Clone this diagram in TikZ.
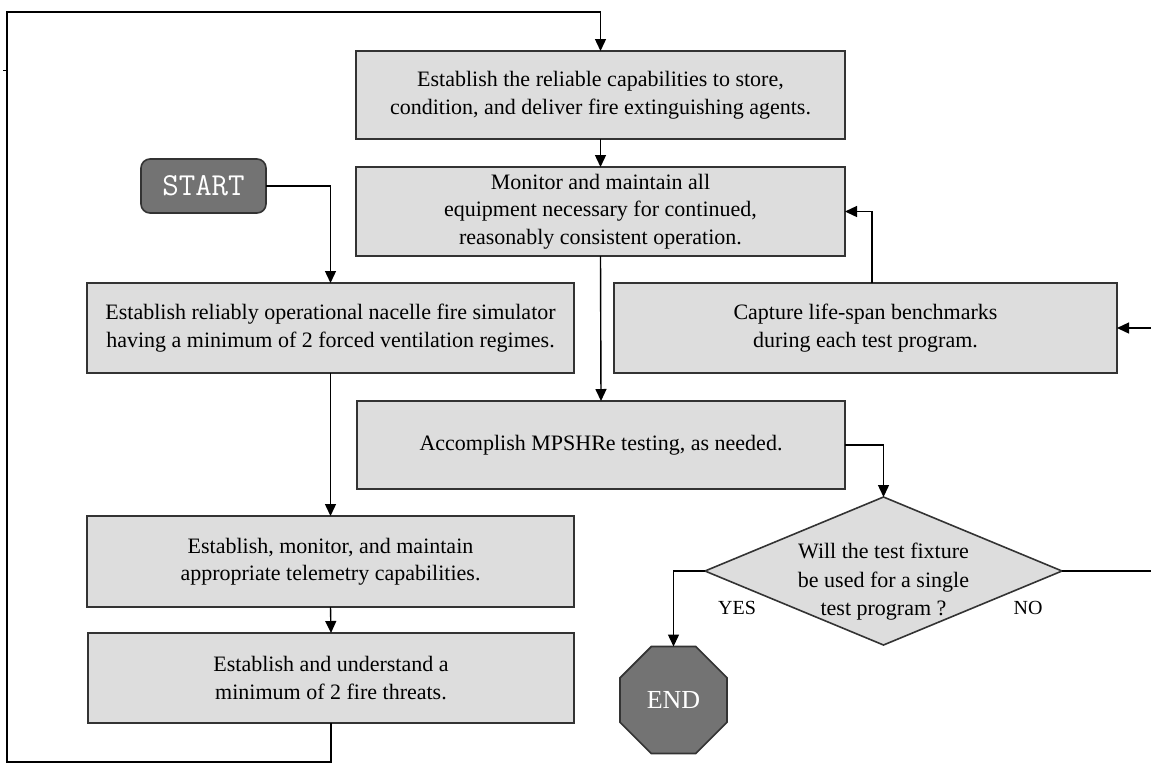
\documentclass[tikz,border=0pt]{standalone}
\usepackage{fontspec}
\setmainfont{Liberation Serif}
\usetikzlibrary{arrows.meta,shapes.geometric}
\definecolor{boxfill}{HTML}{DDDDDD}
\definecolor{boxline}{HTML}{333333}
\definecolor{termfill}{HTML}{737373}
\begin{document}
\begin{tikzpicture}[x=1pt,y=-1pt,
  every node/.style={inner sep=0pt,outer sep=0pt},
  stepbox/.style={draw=boxline,line width=1.6pt,fill=boxfill,align=center,
    font=\fontsize{22}{27.5}\selectfont},
  flow/.style={draw=black,line width=1.4pt,-{Triangle[length=12pt,width=11pt]}},
  wire/.style={draw=black,line width=1.4pt},
  terminal/.style={draw=boxline,line width=1.6pt,fill=termfill,text=white},
  answer/.style={font=\fontsize{20}{24}\selectfont}]
\useasboundingbox[fill=white] (0,0) rectangle (1151,764);

% process boxes
\node[stepbox,minimum width=489pt,minimum height=88pt] (supply) at (600.5,95)
  {Establish the reliable capabilities to store,\\condition, and deliver fire extinguishing agents.};
\node[stepbox,minimum width=489pt,minimum height=89pt] (monitor) at (600.5,211.5)
  {Monitor and maintain all\\equipment necessary for continued,\\reasonably consistent operation.};
\node[stepbox,minimum width=488pt,minimum height=88pt] (mpshre) at (601,445)
  {Accomplish MPSHRe testing, as needed.};
\node[stepbox,minimum width=503pt,minimum height=90pt] (capture) at (865.5,328)
  {Capture life-span benchmarks\\during each test program.};
\node[stepbox,minimum width=487pt,minimum height=90pt] (simulator) at (330.5,328)
  {Establish reliably operational nacelle fire simulator\\having a minimum of 2 forced ventilation regimes.};
\node[stepbox,minimum width=487pt,minimum height=91pt] (telemetry) at (330.5,561.5)
  {Establish, monitor, and maintain\\appropriate telemetry capabilities.};
\node[stepbox,minimum width=486pt,minimum height=90pt] (threats) at (331,678)
  {Establish and understand a\\minimum of 2 fire threats.};

% terminals
\node[terminal,rounded corners=9pt,minimum width=125pt,minimum height=54pt,
  font=\ttfamily\fontsize{32}{32}\selectfont] (start) at (203.5,186) {START};
\node[terminal,regular polygon,regular polygon sides=8,minimum size=115.8pt,
  font=\fontsize{26}{26}\selectfont] (stop) at (673.5,700) {END};

% decision: diamond outline, question set a little below its centre
\node[draw=boxline,line width=1.6pt,fill=boxfill,diamond,aspect=2.4,
  minimum width=357pt,minimum height=148pt] (decide) at (883.5,571) {};
\node[align=center,font=\fontsize{22}{28.5}\selectfont] (question) at (883.5,582)
  {Will the test fixture\\be used for a single\\test program ?};

% free ends at the picture edge
\coordinate (feedin) at (1151,328);
\coordinate (noout) at (1151,571);
\coordinate (loopleft) at (7,762);
\coordinate (looptop) at (7,12);

% connectors
\draw[flow] (start.east) -| (simulator.north);
\draw[flow] (simulator.south) -- (telemetry.north);
\draw[flow] (telemetry.south) -- (threats.north);
\draw[flow] (threats.south) |- (loopleft) -- (looptop) -| (supply.north);
\draw[flow] (supply.south) -- (monitor.north);
\draw[flow] (monitor.south) -- (mpshre.north);
\draw[flow] ([xshift=6.5pt]capture.north) |- (monitor.east);
\draw[flow] (feedin) -- (capture.east);
\draw[flow] (mpshre.east) -| (decide.north);
\draw[flow] (decide.west) -| (stop.north);
\draw[wire] (decide.east) -- (noout);
\draw[line width=0.8pt] (7,70) -- (3,70);

% branch labels
\node[answer] (yes) at (737,608) {YES};
\node[answer] (no) at (1028,608) {NO};
\end{tikzpicture}
\end{document}
